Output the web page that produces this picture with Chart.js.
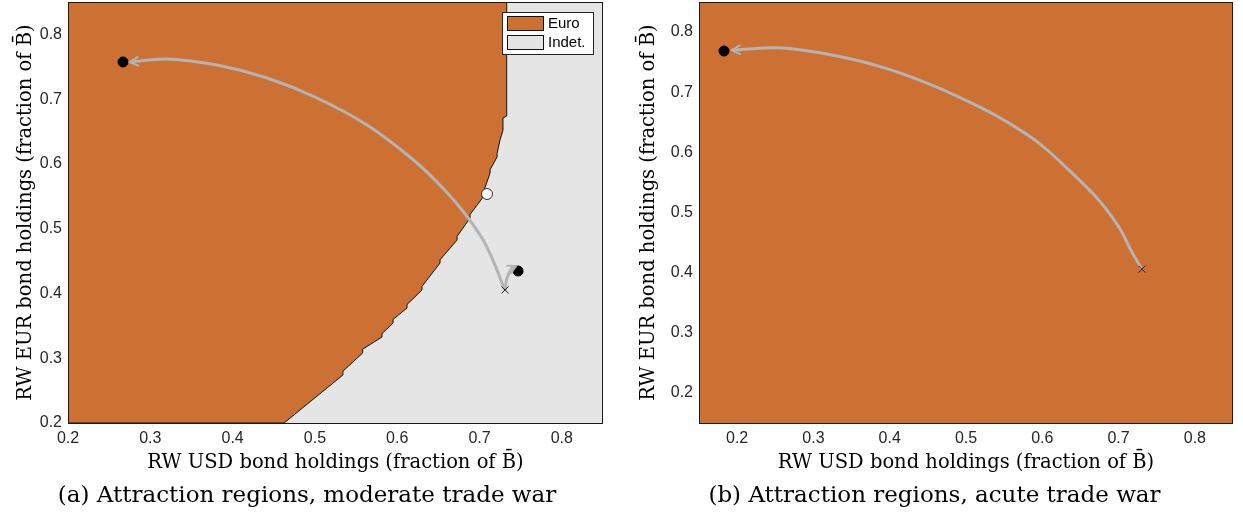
<!DOCTYPE html>
<html><head><meta charset="utf-8">
<script src="https://cdn.jsdelivr.net/npm/chart.js@4.4.1/dist/chart.umd.min.js"></script>
<style>
html,body{margin:0;padding:0;background:#fff;width:1243px;height:521px;overflow:hidden}
#wa{position:absolute;left:0;top:0;width:620px;height:521px}
#wb{position:absolute;left:620px;top:0;width:623px;height:521px}
</style></head><body>
<div id="wa"><canvas id="ca" width="620" height="521"></canvas></div>
<div id="wb"><canvas id="cb" width="623" height="521"></canvas></div>
<script>
// ---------- data ----------
const ticksA = [0.2, 0.3, 0.4, 0.5, 0.6, 0.7, 0.8];
const ticksB = [0.2, 0.3, 0.4, 0.5, 0.6, 0.7, 0.8];
const legendLabels = ['Euro', 'Indet.'];
const captionA = '(a) Attraction regions, moderate trade war';
const captionB = '(b) Attraction regions, acute trade war';
const xTitle = 'RW USD bond holdings (fraction of B\u0304)';
const yTitle = 'RW EUR bond holdings (fraction of B\u0304)';

// panel (a): Euro region boundary (region lies above/left of it)
const euroBoundaryAX = [0.2, 0.4625, 0.534, 0.534, 0.558, 0.558, 0.5815, 0.5815, 0.5949, 0.5949, 0.6119, 0.6119, 0.6301, 0.6301, 0.652, 0.652, 0.6727, 0.6727, 0.6885, 0.6885, 0.7043, 0.7043, 0.7128, 0.7128, 0.7213, 0.7213, 0.7249, 0.7285, 0.7285, 0.733, 0.733];
const euroBoundaryAY = [0.2, 0.2, 0.2741, 0.280, 0.3081, 0.314, 0.3328, 0.338, 0.3544, 0.360, 0.3776, 0.383, 0.4053, 0.411, 0.447, 0.452, 0.4825, 0.488, 0.5165, 0.522, 0.5489, 0.555, 0.586, 0.591, 0.6107, 0.616, 0.637, 0.652, 0.671, 0.674, 0.85];
// panel (a) trajectories
const trajAX = [0.731, 0.7273, 0.7188, 0.7043, 0.6787, 0.6471, 0.6155, 0.5633, 0.5026, 0.4418, 0.3810, 0.3203, 0.2753];
const trajAY = [0.4054, 0.4162, 0.4439, 0.4826, 0.5289, 0.5736, 0.6107, 0.6601, 0.7018, 0.7327, 0.7527, 0.7620, 0.7574];
const branchAX = [0.731, 0.7334, 0.7395, 0.7443];
const branchAY = [0.4054, 0.4239, 0.4393, 0.4424];
const stableAX = [0.2668, 0.7468];
const stableAY = [0.7574, 0.4347];
const unstableAX = [0.7091];
const unstableAY = [0.5536];
const startAX = [0.731];
const startAY = [0.4054];

// panel (b)
const euroBoundaryBX = [0.15, 0.85];
const euroBoundaryBY = [0.15, 0.15];
const trajBX = [0.7306, 0.7162, 0.7005, 0.6742, 0.6349, 0.5956, 0.5563, 0.5209, 0.4554, 0.3898, 0.3243, 0.2588, 0.1932];
const trajBY = [0.4057, 0.4373, 0.4756, 0.5205, 0.5705, 0.6154, 0.6487, 0.6736, 0.7119, 0.7418, 0.7618, 0.7735, 0.7701];
const stableBX = [0.1828];
const stableBY = [0.7685];
const startBX = [0.7306];
const startBY = [0.4057];

// ---------- styling ----------
const EURO = '#CD7034';
const INDET = '#E5E5E5';
const TRAJ = '#B4B4B4';
const tickFont = {family: "'Liberation Sans', Arial, sans-serif", size: 16};
const titleFont = {family: "'DejaVu Serif', serif", size: 19.5};
const capFont = {family: "'DejaVu Serif', serif", size: 23, weight: 'normal'};

const pts = (xs, ys) => xs.map((x, i) => ({x, y: ys[i]}));

function lineDs(xs, ys, color, width, extra) {
  return Object.assign({data: pts(xs, ys), showLine: true, borderColor: color, borderWidth: width,
    pointRadius: 0, fill: false, tension: 0.35}, extra || {});
}
function markerDs(xs, ys, style, r, fillC, borderC, bw, order) {
  return {data: pts(xs, ys), showLine: false, pointStyle: style, pointRadius: r,
    backgroundColor: fillC, borderColor: borderC, borderWidth: bw, order: order};
}

const framePlugin = {
  id: 'frame',
  beforeDatasetsDraw(chart, args, opts) {
    const a = chart.chartArea, c = chart.ctx;
    c.save(); c.fillStyle = opts.bg || INDET; c.fillRect(a.left, a.top, a.right - a.left, a.bottom - a.top); c.restore();
  },
  afterDatasetsDraw(chart) {
    const c = chart.ctx;
    chart.data.datasets.forEach((ds, i) => {
      if (!ds.arrow) return;
      const m = chart.getDatasetMeta(i).data;
      const p1 = m[m.length - 1], p0 = m[m.length - 2];
      const ang = Math.atan2(p1.y - p0.y, p1.x - p0.x);
      const L = 9, spread = 0.5;
      c.save(); c.strokeStyle = ds.borderColor; c.lineWidth = 2; c.lineCap = 'round';
      c.beginPath();
      c.moveTo(p1.x - L * Math.cos(ang - spread), p1.y - L * Math.sin(ang - spread));
      c.lineTo(p1.x, p1.y);
      c.lineTo(p1.x - L * Math.cos(ang + spread), p1.y - L * Math.sin(ang + spread));
      c.stroke(); c.restore();
    });
  },
  afterDraw(chart, args, opts) {
    const a = chart.chartArea, c = chart.ctx;
    c.save(); c.strokeStyle = '#1a1a1a'; c.lineWidth = 1;
    c.strokeRect(Math.round(a.left) + 0.5, Math.round(a.top) + 0.5, Math.round(a.right - a.left) - 1, Math.round(a.bottom - a.top));
    if (opts.legend) {
      const items = opts.legend;
      const bx = a.right - 101, by = a.top + 10, bw = 91, bh = 42;
      c.fillStyle = '#fff'; c.fillRect(bx, by, bw, bh);
      c.strokeStyle = '#222'; c.strokeRect(bx + 0.5, by + 0.5, bw, bh);
      c.font = "15px 'Liberation Sans', Arial, sans-serif"; c.textBaseline = 'middle'; c.textAlign = 'left';
      items.forEach((it, k) => {
        const y = by + 4 + k * 19;
        c.fillStyle = it.color; c.fillRect(bx + 5, y, 37, 15);
        c.strokeStyle = '#111'; c.strokeRect(bx + 5.5, y + 0.5, 36, 14);
        c.fillStyle = '#000'; c.fillText(it.label, bx + 46, y + 8);
      });
    }
    c.restore();
  }
};

function zeroPad(s) { s.paddingTop = 0; s.paddingBottom = 0; s.paddingLeft = 0; s.paddingRight = 0; }

function scales(xmin, xmax, ymin, ymax, xt, yt, yWidth, yTitlePad) {
  return {
    x: {type: 'linear', min: xmin, max: xmax,
      afterBuildTicks: s => { s.ticks = xt.map(v => ({value: v})); },
      afterFit: s => { s.height = 55.4; zeroPad(s); },
      grid: {display: false, drawTicks: false}, border: {display: false},
      ticks: {font: tickFont, color: '#262626', padding: 6, maxRotation: 0, autoSkip: false, callback: v => v.toFixed(1)},
      title: {display: true, text: xTitle, font: titleFont, color: '#000', padding: {top: 0, bottom: 4}}},
    y: {type: 'linear', min: ymin, max: ymax,
      afterBuildTicks: s => { s.ticks = yt.map(v => ({value: v})); },
      afterFit: s => { s.width = yWidth; zeroPad(s); },
      grid: {display: false, drawTicks: false}, border: {display: false},
      ticks: {font: tickFont, color: '#262626', padding: 6, autoSkip: false, callback: v => v.toFixed(1)},
      title: {display: true, text: yTitle, font: titleFont, color: '#000', padding: {top: yTitlePad, bottom: 0}}}
  };
}

function baseOptions(caption, padLeft, padRight, sc, legend, bg) {
  return {
    responsive: false, animation: false, events: [],
    layout: {autoPadding: false, padding: {top: 2, right: padRight, bottom: 11, left: padLeft}},
    scales: sc,
    plugins: {
      legend: {display: false}, tooltip: {enabled: false},
      title: {display: true, position: 'bottom', text: caption, font: capFont, color: '#000', padding: {top: 4, bottom: 0}},
      frame: {legend: legend, bg: bg}
    }
  };
}

new Chart(document.getElementById('ca'), {
  type: 'scatter',
  data: {datasets: [
    lineDs(euroBoundaryAX, euroBoundaryAY, '#111', 1, {label: legendLabels[0], fill: 'end', backgroundColor: EURO, tension: 0, order: 10}),
    markerDs(stableAX, stableAY, 'circle', 5, '#000', '#000', 1, 5),
    lineDs(trajAX, trajAY, TRAJ, 3, {arrow: true, order: 3}),
    lineDs(branchAX, branchAY, TRAJ, 3, {arrow: true, order: 3}),
    markerDs(unstableAX, unstableAY, 'circle', 5.5, '#fff', '#333', 1, 2),
    markerDs(startAX, startAY, 'crossRot', 5, '#222', '#222', 1, 1)
  ]},
  options: baseOptions(captionA, 11, 17, scales(0.2, 0.85, 0.2, 0.85, ticksA, ticksA, 57, 3),
    [{label: legendLabels[0], color: EURO}, {label: legendLabels[1], color: INDET}], INDET),
  plugins: [framePlugin]
});

new Chart(document.getElementById('cb'), {
  type: 'scatter',
  data: {datasets: [
    lineDs(euroBoundaryBX, euroBoundaryBY, EURO, 0, {label: legendLabels[0], fill: 'end', backgroundColor: EURO, tension: 0, order: 10}),
    markerDs(stableBX, stableBY, 'circle', 5, '#000', '#000', 1, 5),
    lineDs(trajBX, trajBY, TRAJ, 3, {arrow: true, order: 3}),
    markerDs(startBX, startBY, 'crossRot', 5, '#222', '#222', 1, 1)
  ]},
  options: baseOptions(captionB, 16, 10, scales(0.15, 0.85, 0.15, 0.85, ticksB, ticksB, 63, 1), null, EURO),
  plugins: [framePlugin]
});
</script>
</body></html>
